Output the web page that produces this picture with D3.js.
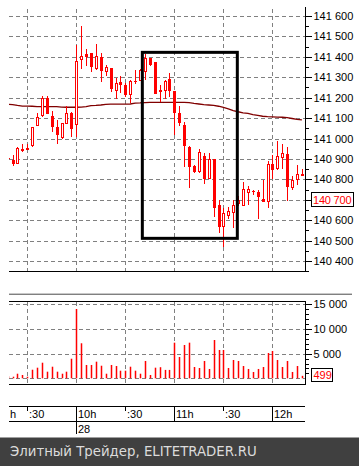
<!DOCTYPE html>
<html>
<head>
<meta charset="utf-8">
<script src="https://cdn.jsdelivr.net/npm/d3@7/dist/d3.min.js"></script>
<style>
    body { margin: 0; background: #fff; }
    svg { display: block; font-family: "Liberation Sans", Arial, sans-serif; }
</style>
</head>
<body>
<svg id="chart" width="359" height="466"></svg>
<script>
// 3-minute bars, 28th, 9:18 - 12:18
const times = ['9:18','9:21','9:24','9:27','9:30','9:33','9:36','9:39','9:42','9:45',
    '9:48','9:51','9:54','9:57','10:00','10:03','10:06','10:09','10:12','10:15',
    '10:18','10:21','10:24','10:27','10:30','10:33','10:36','10:39','10:42','10:45',
    '10:48','10:51','10:54','10:57','11:00','11:03','11:06','11:09','11:12','11:15',
    '11:18','11:21','11:24','11:27','11:30','11:33','11:36','11:39','11:42','11:45',
    '11:48','11:51','11:54','11:57','12:00','12:03','12:06','12:09','12:12','12:15','12:18'];

const open = [140905,140895,140875,140940,140950,140960,141060,141110,141200,141110,
    141055,141000,141070,141125,141065,141385,141415,141420,141340,141400,
    141325,141345,141230,141275,141260,141210,141280,141280,141325,141395,
    141375,141230,141230,141290,141235,141125,141065,140960,140865,140835,
    140915,140800,140900,140675,140565,140620,140635,140680,140670,140735,
    140745,140740,140705,140690,140875,140850,140905,140925,140755,140795,140820];

const high = [140910,140920,140960,140975,140975,141055,141125,141210,141210,141135,
    141090,141075,141160,141130,141460,141550,141440,141420,141465,141420,
    141360,141345,141295,141305,141270,141285,141335,141340,141415,141395,
    141375,141260,141285,141320,141235,141160,141080,140965,140870,140950,
    140930,140930,140900,140700,140660,140665,140700,140720,140785,140765,
    140750,140750,140795,140890,140920,140990,140975,140960,140815,140870,140850];

const low = [140895,140865,140875,140935,140950,140960,141060,141105,141120,141030,
    140975,141000,141070,141005,141005,141340,141355,141325,141335,141275,
    141305,141230,141195,141225,141205,141175,141265,141280,141285,141355,
    141220,141180,141195,141205,141015,141060,140860,140760,140830,140830,
    140775,140800,140615,140535,140470,140605,140560,140670,140670,140675,
    140725,140605,140690,140660,140800,140845,140850,140695,140750,140770,140815];

const close = [140905,140875,140955,140950,140955,141055,141105,141200,141120,141055,
    141015,141075,141125,141045,141380,141405,141400,141350,141405,141330,
    141350,141240,141270,141260,141210,141280,141280,141335,141395,141360,
    141220,141240,141280,141230,141125,141075,140960,140860,140835,140935,
    140800,140900,140660,140565,140635,140645,140675,140700,140755,140755,
    140745,140715,140690,140875,140845,140915,140930,140765,140795,140825,140825];

const volume = [400,320,930,670,320,1740,2150,3160,1340,2350,
    1340,930,1340,3970,14050,7100,2700,2700,3370,2550,
    930,2700,2490,1540,1540,2350,1540,930,3510,670,
    2150,2250,1700,1700,7220,4320,6750,7220,2290,2090,
    3510,1890,7760,5740,5740,2090,3710,3510,2490,1890,
    1280,1890,2290,5130,5530,3710,2290,3510,1280,2490,499];

// moving average (dark red line)
const movingAvg = [141168,141166,141162,141159,141159,141158,141156,141156,141156,141156,
    141156,141154,141153,141153,141153,141154,141156,141161,141162,141164,
    141167,141168,141168,141168,141168,141169,141173,141174,141176,141177,
    141177,141177,141177,141177,141177,141177,141177,141176,141172,141169,
    141166,141164,141162,141158,141152,141145,141137,141131,141126,141123,
    141117,141113,141109,141107,141106,141105,141104,141102,141098,141094,141091];

const priceTicks = [140400,140500,140600,140700,140800,140900,141000,141100,141200,141300,141400,141500,141600];
const volumeTicks = [5000,10000,15000];
const timeTicks = ['9:30','10:00','10:30','11:00','11:30','12:00'];
const timeLabels = [':30','10h',':30','11h',':30','12h'];
const dayLabel = '28';
const lastPrice = 140700;
const lastVolume = 499;
// highlighted box: time from/to, price top/bottom
const boxTimes = ['10:40.4','11:38.5'];
const boxPrices = [141422,140511];

const toMin = s => { const [h, m] = s.split(':'); return +h * 60 + +m; };
const fmt = d3.formatLocale({decimal: '.', thousands: ' ', grouping: [3], currency: ['', '']}).format(',');

const bars = times.map((t, i) => ({
    t: toMin(t), o: open[i], h: high[i], l: low[i], c: close[i], v: volume[i], ma: movingAvg[i]
}));

const svg = d3.select('#chart');
const plotLeft = 9, plotRight = 305;
const red = '#ff0000';
const gridColor = '#808080';

const x = d3.scaleLinear().domain([558.84, 739.9]).range([plotLeft, plotRight]);
const y = d3.scaleLinear().domain([140400, 141600]).range([261, 16]);
const yVol = d3.scaleLinear().domain([0, 15000]).range([378.3, 304.3]);
const px = t => Math.round(x(t));

svg.append('rect').attr('width', 359).attr('height', 466).attr('fill', '#fff');

svg.append('clipPath').attr('id', 'clip-main')
    .append('rect').attr('x', plotLeft).attr('y', 0).attr('width', plotRight - plotLeft).attr('height', 271);
svg.append('clipPath').attr('id', 'clip-vol')
    .append('rect').attr('x', plotLeft).attr('y', 302).attr('width', plotRight - plotLeft).attr('height', 82);

// ---------- price panel ----------
const main = svg.append('g');

main.append('g').selectAll('line')
    .data(priceTicks)
    .join('line')
    .attr('x1', plotLeft).attr('x2', plotRight)
    .attr('y1', d => Math.round(y(d)) + 0.5).attr('y2', d => Math.round(y(d)) + 0.5)
    .attr('stroke', gridColor).attr('stroke-dasharray', '4,3');

main.append('g').selectAll('line')
    .data(timeTicks)
    .join('line')
    .attr('x1', d => px(toMin(d)) + 0.5).attr('x2', d => px(toMin(d)) + 0.5)
    .attr('y1', 9).attr('y2', 271)
    .attr('stroke', gridColor).attr('stroke-dasharray', '4,3');

const plot = main.append('g').attr('clip-path', 'url(#clip-main)');

// moving average
plot.append('path')
    .datum(bars)
    .attr('fill', 'none')
    .attr('stroke', '#800000')
    .attr('stroke-width', 1.3)
    .attr('d', d3.line().x(d => x(d.t)).y(d => y(d.ma)));

const candles = plot.selectAll('.candle')
    .data(bars)
    .join('g')
    .attr('class', 'candle')
    .attr('shape-rendering', 'crispEdges');

candles.append('line')
    .attr('x1', d => px(d.t) + 0.5).attr('x2', d => px(d.t) + 0.5)
    .attr('y1', d => y(d.h)).attr('y2', d => y(d.l))
    .attr('stroke', red);

candles.append('rect')
    .attr('x', d => d.c > d.o ? px(d.t) - 0.5 : px(d.t) - 1)
    .attr('width', d => d.c > d.o ? 2 : 3)
    .attr('y', d => d.c > d.o ? Math.round(y(d.c)) + 0.5 : Math.round(y(d.o)))
    .attr('height', d => {
        const h = Math.round(Math.abs(y(d.o) - y(d.c)));
        return d.c > d.o ? Math.max(1, h - 1) : Math.max(1, h);
    })
    .attr('fill', d => d.c > d.o ? '#fff' : red)
    .attr('stroke', d => d.c > d.o ? red : 'none');

// highlighted box
plot.append('rect')
    .attr('x', x(toMin(boxTimes[0])))
    .attr('y', y(boxPrices[0]))
    .attr('width', x(toMin(boxTimes[1])) - x(toMin(boxTimes[0])))
    .attr('height', y(boxPrices[1]) - y(boxPrices[0]))
    .attr('fill', 'none')
    .attr('stroke', '#000')
    .attr('stroke-width', 3);

main.append('line')
    .attr('x1', plotLeft).attr('x2', plotRight)
    .attr('y1', 271.5).attr('y2', 271.5)
    .attr('stroke', '#000');

// price axis on the right
const minorPrice = d3.range(140350, 141601, 50);
main.append('g')
    .attr('transform', `translate(${plotRight + 0.5},0)`)
    .call(d3.axisRight(y).tickValues(minorPrice).tickSize(3).tickFormat(''))
    .call(g => g.select('.domain').remove());

// the last-price marker sits over its own level, so that label is left out
main.append('g')
    .attr('transform', `translate(${plotRight + 0.5},0)`)
    .call(d3.axisRight(y).tickValues(priceTicks).tickSize(6).tickPadding(2)
        .tickFormat(d => d === lastPrice ? '' : fmt(d)))
    .call(g => g.select('.domain').remove())
    .call(g => g.selectAll('text').attr('font-size', 11).attr('font-family', null));

main.append('line')
    .attr('x1', plotRight + 0.5).attr('x2', plotRight + 0.5)
    .attr('y1', 7).attr('y2', 272)
    .attr('stroke', '#000');

main.selectAll('.tick line').attr('shape-rendering', 'crispEdges');

// last price marker
const lp = main.append('g').attr('transform', `translate(311.5,${Math.round(y(lastPrice)) - 7.5})`);
lp.append('rect').attr('width', 42).attr('height', 14).attr('fill', '#fff').attr('stroke', '#000');
lp.append('text').attr('x', 1.5).attr('y', 11).attr('font-size', 11).attr('letter-spacing', -0.2)
    .attr('fill', red).text(fmt(lastPrice));

// ---------- separator ----------
svg.append('line').attr('x1', plotLeft).attr('x2', 352).attr('y1', 293.5).attr('y2', 293.5).attr('stroke', '#c8c8c8');
svg.append('line').attr('x1', plotLeft).attr('x2', 352).attr('y1', 294.5).attr('y2', 294.5).attr('stroke', '#808080');

// ---------- volume panel ----------
const vol = svg.append('g');

vol.append('g').selectAll('line')
    .data([0].concat(volumeTicks))
    .join('line')
    .attr('x1', plotLeft).attr('x2', plotRight)
    .attr('y1', d => Math.round(yVol(d)) + 0.5).attr('y2', d => Math.round(yVol(d)) + 0.5)
    .attr('stroke', gridColor).attr('stroke-dasharray', '4,3');

vol.append('g').selectAll('line')
    .data(timeTicks)
    .join('line')
    .attr('x1', d => px(toMin(d)) + 0.5).attr('x2', d => px(toMin(d)) + 0.5)
    .attr('y1', 302).attr('y2', 384)
    .attr('stroke', gridColor).attr('stroke-dasharray', '4,3');

vol.append('g').attr('clip-path', 'url(#clip-vol)')
    .selectAll('rect')
    .data(bars)
    .join('rect')
    .attr('x', d => px(d.t) - 0.25)
    .attr('width', 1.5)
    .attr('y', d => yVol(d.v))
    .attr('height', d => yVol(0) - yVol(d.v))
    .attr('fill', red);

vol.append('line').attr('x1', plotLeft).attr('x2', plotRight + 1).attr('y1', 301.5).attr('y2', 301.5).attr('stroke', '#000');
vol.append('line').attr('x1', plotLeft).attr('x2', plotRight + 1).attr('y1', 384.5).attr('y2', 384.5).attr('stroke', '#000');

vol.append('g')
    .attr('transform', `translate(${plotRight + 0.5},0)`)
    .call(d3.axisRight(yVol).tickValues(d3.range(1000, 15000, 1000)).tickSize(3).tickFormat(''))
    .call(g => g.select('.domain').remove());

vol.append('g')
    .attr('transform', `translate(${plotRight + 0.5},0)`)
    .call(d3.axisRight(yVol).tickValues(volumeTicks).tickSize(6).tickPadding(2).tickFormat(fmt))
    .call(g => g.select('.domain').remove())
    .call(g => g.selectAll('text').attr('font-size', 11).attr('font-family', null));

vol.append('line')
    .attr('x1', plotRight + 0.5).attr('x2', plotRight + 0.5)
    .attr('y1', 301).attr('y2', 385)
    .attr('stroke', '#000');

vol.selectAll('.tick line').attr('shape-rendering', 'crispEdges');

const lv = vol.append('g').attr('transform', `translate(311.5,${Math.round(yVol(lastVolume)) - 7.5})`);
lv.append('rect').attr('width', 21).attr('height', 13).attr('fill', '#fff').attr('stroke', '#000');
lv.append('text').attr('x', 2).attr('y', 10.5).attr('font-size', 11).attr('fill', red).text(lastVolume);

// ---------- time axis ----------
const tAxis = svg.append('g').attr('font-size', 11);

tAxis.append('line').attr('x1', plotLeft).attr('x2', plotRight).attr('y1', 406.5).attr('y2', 406.5).attr('stroke', '#000');
tAxis.append('line').attr('x1', plotLeft).attr('x2', plotRight).attr('y1', 421.5).attr('y2', 421.5).attr('stroke', '#000');

tAxis.selectAll('.tmark')
    .data(timeTicks)
    .join('line')
    .attr('class', 'tmark')
    .attr('x1', d => px(toMin(d)) + 0.5).attr('x2', d => px(toMin(d)) + 0.5)
    .attr('y1', 406)
    .attr('y2', d => toMin(d) % 60 === 0 ? 421 : 411)
    .attr('stroke', '#000');

tAxis.selectAll('.tlabel')
    .data(timeTicks)
    .join('text')
    .attr('class', 'tlabel')
    .attr('x', d => px(toMin(d)) + 2)
    .attr('y', 418)
    .text((d, i) => timeLabels[i]);

tAxis.append('text').attr('x', 10).attr('y', 418).text('h');

// day boundary
tAxis.append('line')
    .attr('x1', px(toMin('10:00')) + 0.5).attr('x2', px(toMin('10:00')) + 0.5)
    .attr('y1', 421).attr('y2', 434)
    .attr('stroke', '#000');
tAxis.append('text').attr('x', px(toMin('10:00')) + 2).attr('y', 433).text(dayLabel);

// ---------- footer ----------
svg.append('rect').attr('x', 0).attr('y', 437.5).attr('width', 359).attr('height', 29).attr('fill', '#404040');
svg.append('text')
    .attr('x', 10).attr('y', 456)
    .attr('font-family', '"DejaVu Sans", sans-serif')
    .attr('font-size', 13.3)
    .attr('fill', '#dcdcdc')
    .text('Элитный Трейдер, ELITETRADER.RU');
</script>
</body>
</html>
